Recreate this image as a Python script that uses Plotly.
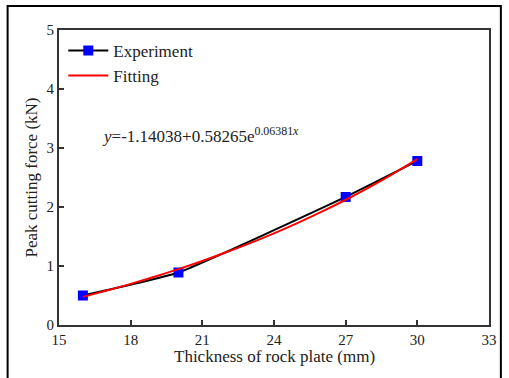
import plotly.graph_objects as go

# Data
thickness = [16, 20, 27, 30]
peak_force = [0.50, 0.89, 2.17, 2.78]

fit_x = [16, 17, 18, 19, 20, 21, 22, 23, 24, 25, 26, 27, 28, 29, 30]
fit_y = [0.477, 0.584, 0.697, 0.818, 0.947, 1.085, 1.232, 1.388, 1.554,
         1.732, 1.921, 2.123, 2.338, 2.567, 2.811]

x_ticks = [15, 18, 21, 24, 27, 30, 33]
y_ticks = [0, 1, 2, 3, 4, 5]

FONT = "Liberation Serif"
AX = "#333333"

fig = go.Figure()
fig.add_trace(go.Scatter(
    x=thickness, y=peak_force, name="Experiment", mode="lines+markers",
    line=dict(color="black", width=2, shape="spline", smoothing=0.4),
    marker=dict(symbol="square", size=10, color="#0000ff"),
))
fig.add_trace(go.Scatter(
    x=fit_x, y=fit_y, name="Fitting", mode="lines",
    line=dict(color="#ff0000", width=2, shape="spline"),
))

fig.update_layout(
    width=509, height=378,
    margin=dict(l=59, r=15, t=30, b=53),
    paper_bgcolor="white", plot_bgcolor="white",
    font=dict(family=FONT, size=15, color="#222"),
    showlegend=True,
    legend=dict(x=0.01, y=0.99, xanchor="left", yanchor="top",
                bgcolor="rgba(0,0,0,0)", font=dict(size=17, family=FONT),
                tracegroupgap=0, itemwidth=40),
    xaxis=dict(range=[15, 33], tickvals=x_ticks, ticks="inside", ticklen=5,
               tickwidth=1.5, tickcolor=AX, showline=True, linecolor=AX,
               linewidth=2, mirror=True, showgrid=False, zeroline=False,
               ticklabelstandoff=0,
               tickfont=dict(size=15, family=FONT)),
    yaxis=dict(range=[0, 5], tickvals=y_ticks, ticks="inside", ticklen=5,
               tickwidth=1.5, tickcolor=AX, showline=True, linecolor=AX,
               linewidth=2, mirror=True, showgrid=False, zeroline=False,
               tickfont=dict(size=15, family=FONT),
               title=dict(text="Peak cutting force (kN)", standoff=5,
                          font=dict(size=17, family=FONT))),
)

fig.add_annotation(
    x=0.5, y=-0.108, xref="paper", yref="paper", xanchor="center",
    yanchor="middle", text="Thickness of rock plate (mm)", showarrow=False,
    font=dict(size=17, family=FONT, color="#222"),
)

fig.add_annotation(
    x=16.7, y=3.22, xref="x", yref="y", xanchor="left", yanchor="middle",
    text="<i>y</i>=-1.14038+0.58265e<sup>0.06381<i>x</i></sup>",
    showarrow=False, font=dict(size=17, family=FONT, color="#222"),
)

# outer frame
fig.add_shape(type="rect", xref="paper", yref="paper",
              x0=-0.1195, x1=1.0276, y0=-0.25, y1=1.0814,
              line=dict(color="black", width=2), fillcolor="rgba(0,0,0,0)",
              layer="below")

fig.write_html("out.html")
